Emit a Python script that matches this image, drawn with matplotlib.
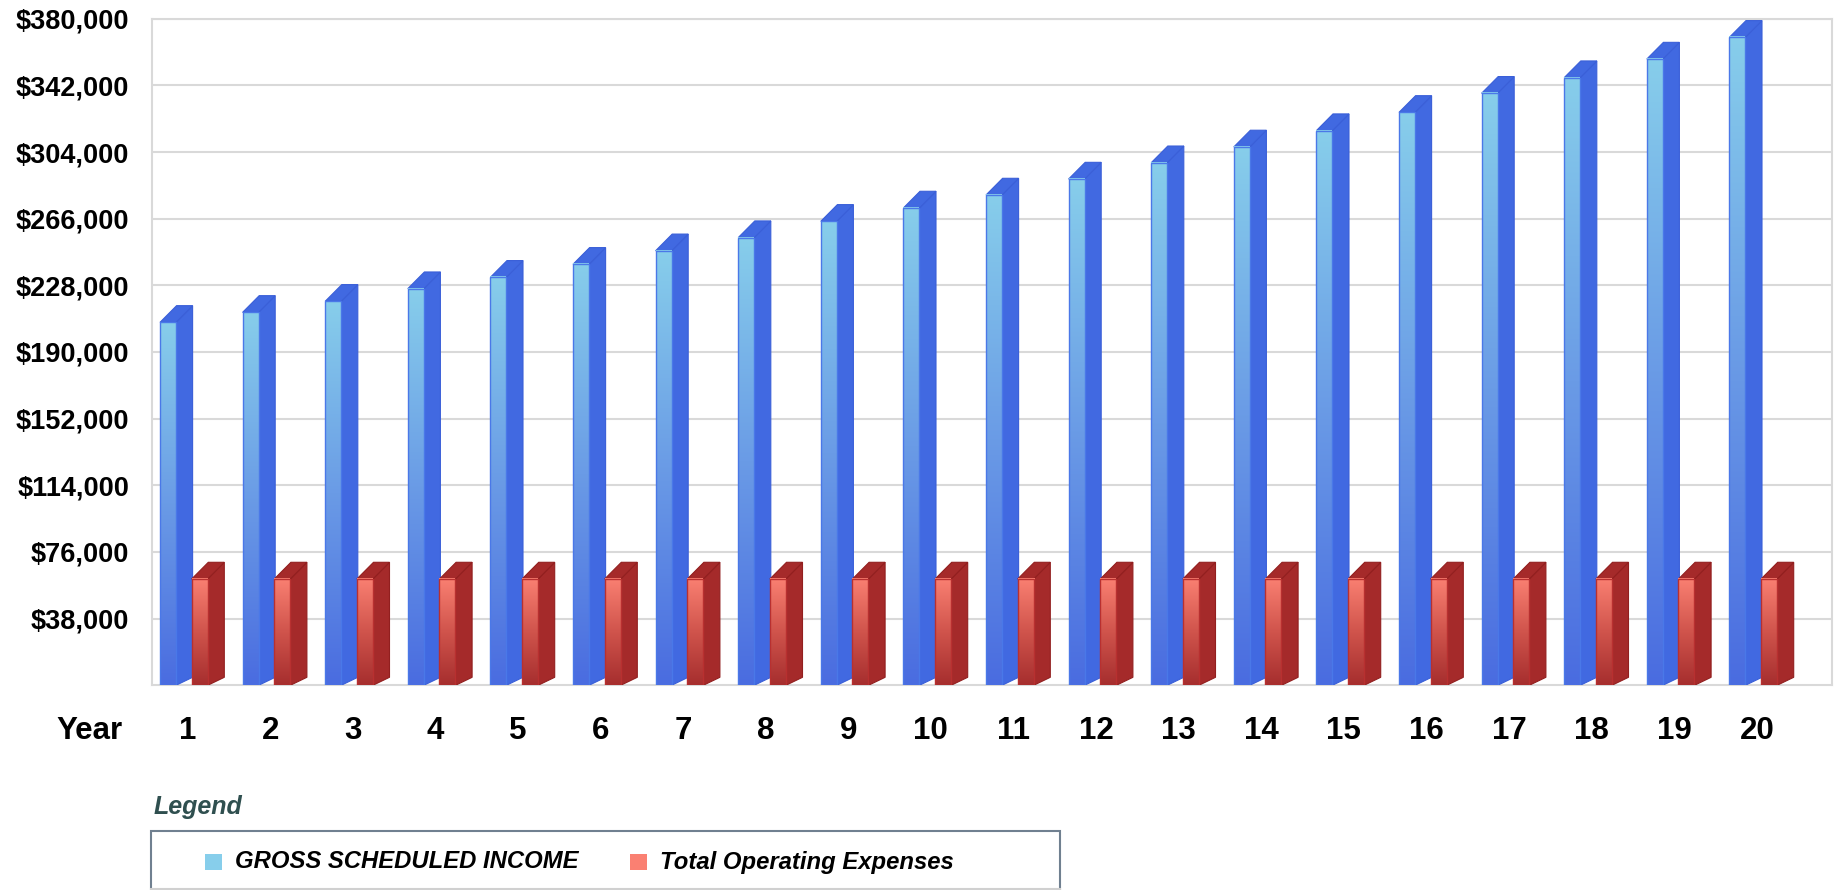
import numpy as np
import matplotlib
matplotlib.use("Agg")
import matplotlib.pyplot as plt
from matplotlib.patches import Rectangle, Polygon
from matplotlib.colors import LinearSegmentedColormap
import matplotlib.transforms as mtransforms

# ---------------- data ----------------
years = [str(i) for i in range(1, 21)]
gross_income = [206900, 212600, 218900, 226100, 232600, 240000, 247700, 255200,
                264500, 272100, 279500, 288600, 297900, 306900, 316200, 326600,
                337500, 346400, 357000, 369400]
operating_expenses = [60600, 60600, 60600, 60600, 60600, 60600, 60600, 60600,
                      60600, 60600, 60600, 60600, 60600, 60600, 60600, 60600,
                      60600, 60600, 60600, 60600]
y_ticks = [0, 38000, 76000, 114000, 152000, 190000, 228000, 266000, 304000, 342000, 380000]
series_names = ["GROSS SCHEDULED INCOME", "Total Operating Expenses"]
x_title = "Year"
legend_title = "Legend"

# ---------------- figure ----------------
W, H = 1839, 890
fig = plt.figure(figsize=(W / 100, H / 100), dpi=100)
FONT = ["Liberation Sans", "DejaVu Sans"]

def fx(px):
    return px / W

def fy(py):
    return 1 - py / H

ax_l, ax_r, ax_t, ax_b = 152, 1832, 18.7, 685.3
ax = fig.add_axes([fx(ax_l), fy(ax_b), fx(ax_r - ax_l), (ax_b - ax_t) / H])

slot_px = 82.6
x0 = -(184 - ax_l) / slot_px
x1 = x0 + (ax_r - ax_l) / slot_px
ymax = y_ticks[-1]
px_per_val = (ax_b - ax_t) / ymax

front_w = 16 / slot_px
blue_off = -24 / slot_px
red_off = 7.7 / slot_px
dx = 16.6 / slot_px
dy = 16.7 / px_per_val
dy_bottom = 8 / px_per_val

blue_cmap = LinearSegmentedColormap.from_list("b", ["#4A6CE0", "#6A9BE6", "#87CEEB"])
red_cmap = LinearSegmentedColormap.from_list("r", ["#A62E2E", "#D0544C", "#FA8072"])
grad = np.linspace(0, 1, 256).reshape(-1, 1)

def draw_bar(xl, h, cmap, side_col, edge_col, front_edge):
    xr = xl + front_w
    side = Polygon([(xr, 0), (xr + dx, dy_bottom), (xr + dx, h + dy), (xr, h)],
                   closed=True, facecolor=side_col, edgecolor=edge_col, lw=0.8, zorder=3)
    ax.add_patch(side)
    top = Polygon([(xl, h), (xl + dx, h + dy), (xr + dx, h + dy), (xr, h)],
                  closed=True, facecolor=side_col, edgecolor=edge_col, lw=0.8, zorder=3)
    ax.add_patch(top)
    ax.imshow(grad, extent=[xl, xr, 0, h], origin="lower", aspect="auto",
              cmap=cmap, zorder=4, interpolation="bilinear")
    ax.add_patch(Rectangle((xl, 0), front_w, h, facecolor="none",
                           edgecolor=front_edge, lw=1.0, zorder=5))

for i in range(len(years)):
    draw_bar(i + blue_off, gross_income[i], blue_cmap, "#4169E1", "#3A5FD8", "#4A78E8")
    draw_bar(i + red_off, operating_expenses[i], red_cmap, "#A52A2A", "#921F1F", "#B83030")

ax.set_xlim(x0, x1)
ax.set_ylim(0, ymax)
ax.set_yticks(y_ticks[1:])
ax.set_yticklabels(["${:,.0f}".format(v) for v in y_ticks[1:]],
                   fontsize=19.5, fontweight="bold", family=FONT)
ax.tick_params(axis="y", length=0, pad=16.5)
ax.set_xticks([])
ax.yaxis.grid(True, color="#D9D9D9", lw=1.5)
ax.set_axisbelow(True)
for s in ax.spines.values():
    s.set_color("#D9D9D9")
    s.set_linewidth(1.5)

# x category labels
trans = mtransforms.blended_transform_factory(ax.transData, fig.transFigure)
for i, lab in enumerate(years):
    ax.text(i + 0.042, fy(731), lab, transform=trans, ha="center", va="center",
            fontsize=22.5, fontweight="bold", family=FONT, color="black")
fig.text(fx(123), fy(731), x_title, ha="right", va="center",
         fontsize=22.5, fontweight="bold", family=FONT, color="black")

# legend
fig.text(fx(154), fy(807), legend_title, ha="left", va="center", fontsize=18,
         fontweight="bold", style="italic", family=FONT, color="#2F4F4F")
fig.add_artist(Rectangle((fx(151), fy(895)), fx(1060 - 151), (895 - 831.5) / H,
                         transform=fig.transFigure, facecolor="white",
                         edgecolor="#708090", lw=1.5))
fig.add_artist(plt.Line2D([fx(151), fx(1060)], [fy(888.5), fy(888.5)],
                          transform=fig.transFigure, color="#D0D0D0", lw=1.5))
legend_items = [(205, 234.6, "#87CEEB"), (630, 660, "#FA8072")]
for (sqx, tx, col), name in zip(legend_items, series_names):
    fig.add_artist(Rectangle((fx(sqx), fy(870)), fx(16.5), 16 / H,
                             transform=fig.transFigure, facecolor=col, edgecolor="none"))
    fig.text(fx(tx), fy(862), name, ha="left", va="center", fontsize=17.2,
             fontweight="bold", style="italic", family=FONT, color="black")

fig.savefig("out.png", dpi=100)
